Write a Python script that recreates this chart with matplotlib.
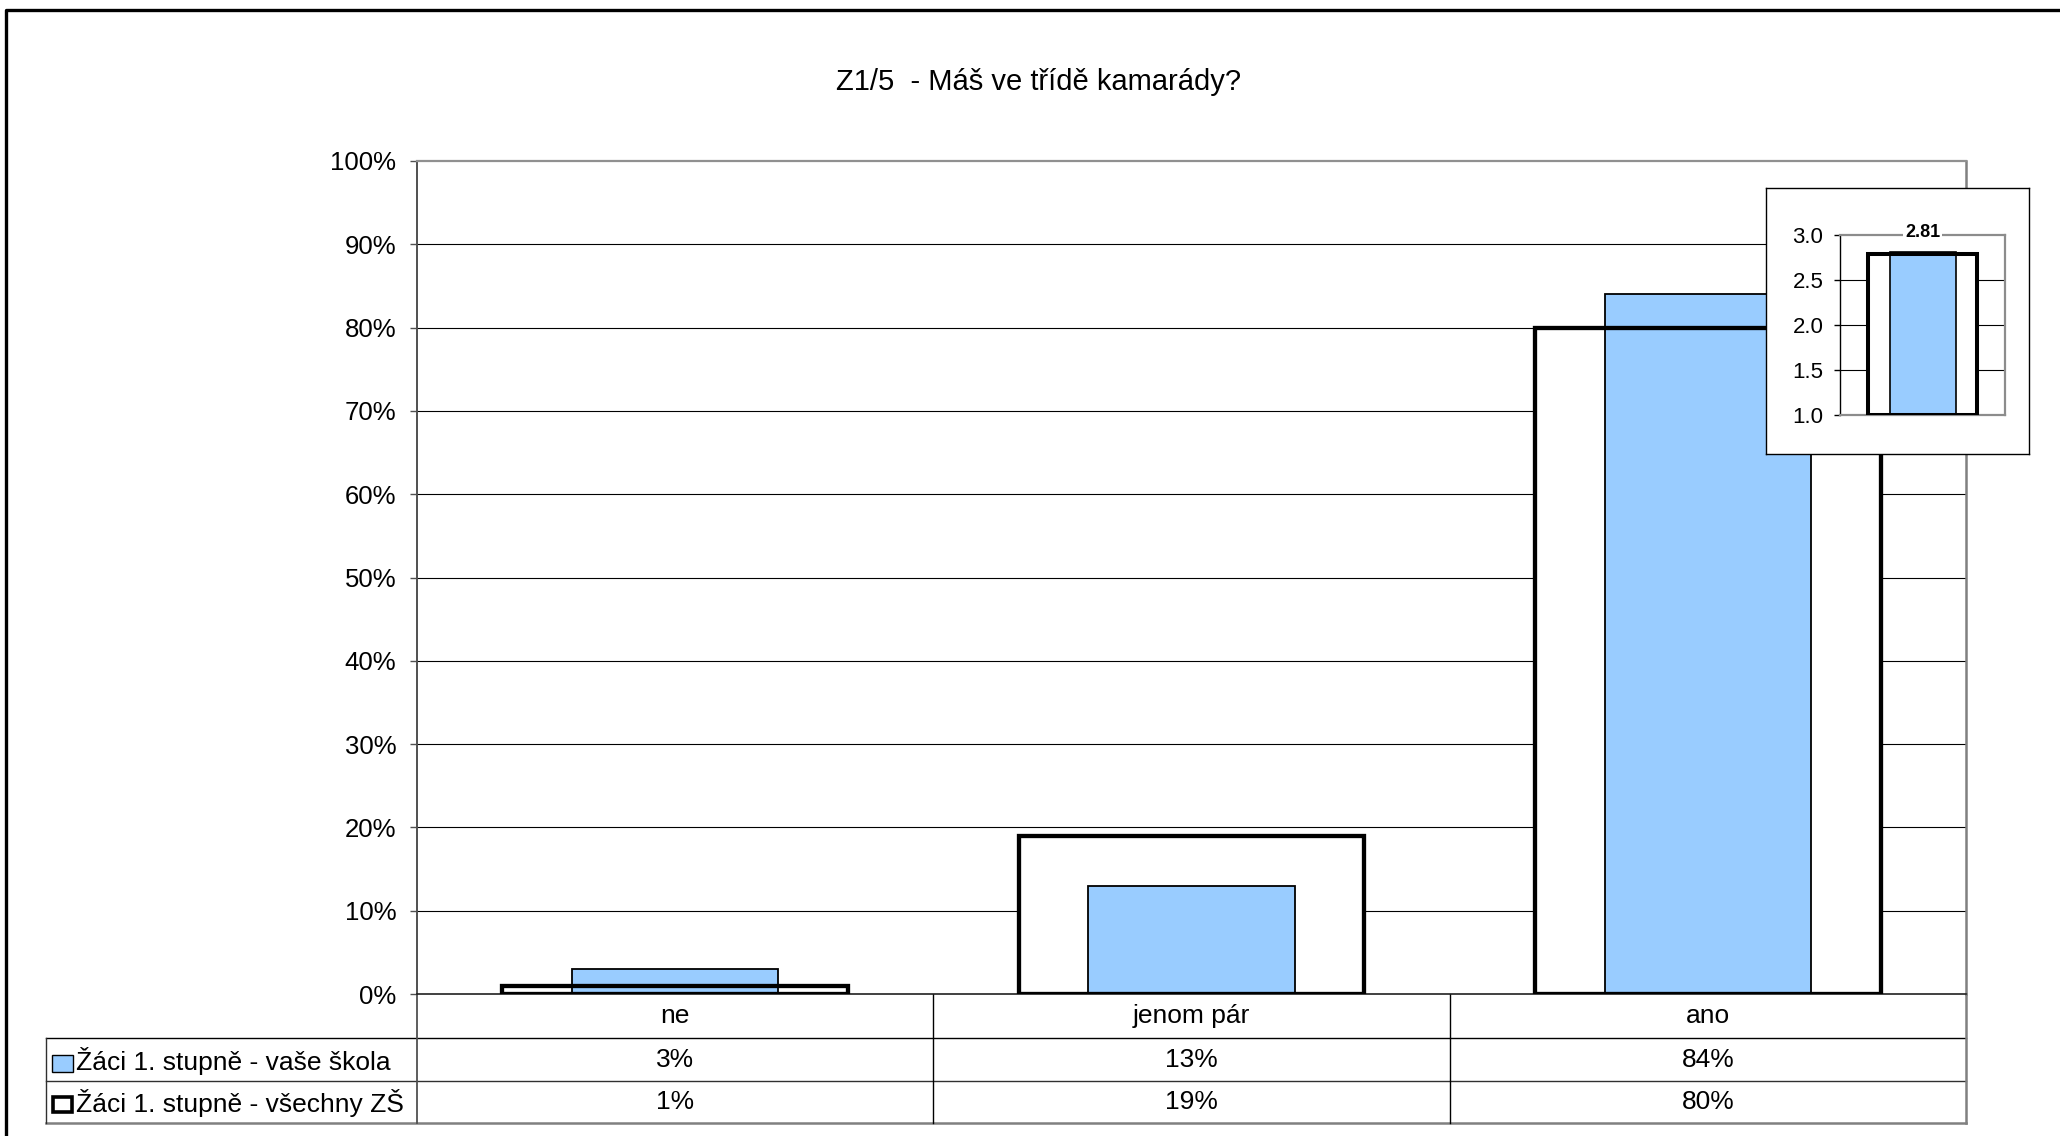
import matplotlib
matplotlib.use('Agg')
import matplotlib.pyplot as plt
import matplotlib.transforms as mtransforms
from matplotlib.patches import Rectangle
import numpy as np

plt.rcParams['font.family'] = ['Liberation Sans', 'DejaVu Sans']

# data
title = 'Z1/5  - Máš ve třídě kamarády?'
categories = ['ne', 'jenom pár', 'ano']
series_names = ['Žáci 1. stupně - vaše škola', 'Žáci 1. stupně - všechny ZŠ']
school_pct = [3, 13, 84]
all_pct = [1, 19, 80]
y_ticks = [0, 10, 20, 30, 40, 50, 60, 70, 80, 90, 100]
# inset: average score
inset_school = 2.81
inset_all = 2.79
inset_ticks = [1.0, 1.5, 2.0, 2.5, 3.0]

BLUE = '#99CCFF'
W, H = 2060, 1136

fig = plt.figure(figsize=(W / 100, H / 100), dpi=100)

# overlay in pixel coordinates for frame + table lines
ov = fig.add_axes([0, 0, 1, 1], zorder=0)
ov.set_xlim(0, W)
ov.set_ylim(H, 0)
ov.axis('off')
ov.plot([6, 6, W], [H, 10, 10], color='black', lw=2.4, solid_capstyle='projecting')

# table grid
ov.plot([46, 1966], [1038, 1038], color='black', lw=1.0)
ov.plot([46, 1966], [1081, 1081], color='#303030', lw=1.0)
ov.plot([46, 1966], [1123, 1123], color='#808080', lw=1.8)
ov.plot([46, 46], [1038, 1123], color='#303030', lw=1.0)
for xx in [933.3, 1449.7]:
    ov.plot([xx, xx], [994, 1123], color='black', lw=1.0)
ov.plot([417, 417], [994, 1123], color='#505050', lw=1.3)
ov.plot([1966, 1966], [994, 1123], color='#808080', lw=1.8)

# legend swatches
ov.add_patch(Rectangle((52, 1055), 21, 17, facecolor=BLUE, edgecolor='black', lw=1.0))
ov.add_patch(Rectangle((53, 1097), 19, 15, facecolor='white', edgecolor='black', lw=2.6))
fig.text(76 / W, 1 - 1061 / H, series_names[0], fontsize=19, va='center', ha='left')
fig.text(76 / W, 1 - 1103 / H, series_names[1], fontsize=19, va='center', ha='left')

fig.text(1039 / W, 1 - 82 / H, title, fontsize=21, ha='center', va='center')

# main chart
ax = fig.add_axes([417 / W, 1 - 994 / H, 1549 / W, 833 / H], zorder=1)
x = np.arange(len(categories))
ax.set_xlim(-0.5, len(categories) - 0.5)
ax.set_ylim(0, 100)
ax.set_yticks(y_ticks)
ax.set_yticklabels([f'{v}%' for v in y_ticks], fontsize=18.5)
ax.set_xticks([])
ax.tick_params(axis='y', direction='out', length=5, width=1, color='#505050', pad=10)
for v in y_ticks[1:-1]:
    ax.axhline(v, color='black', lw=0.8, zorder=0)

ax.bar(x, all_pct, width=0.67, color='white', edgecolor='none', zorder=1)
ax.bar(x, school_pct, width=0.4, color=BLUE, edgecolor='black', lw=1.3, zorder=2)
ax.bar(x, all_pct, width=0.67, fill=False, edgecolor='black', lw=3.1, zorder=3)

ax.spines['left'].set_color('#505050')
ax.spines['left'].set_linewidth(1.4)
ax.spines['bottom'].set_color('#202020')
ax.spines['bottom'].set_linewidth(1.2)
ax.spines['top'].set_color('#909090')
ax.spines['top'].set_linewidth(1.6)
ax.spines['right'].set_color('#808080')
ax.spines['right'].set_linewidth(1.8)

# table texts below the axis
trans = mtransforms.blended_transform_factory(ax.transData, ax.transAxes)
row_y = [-(1016 - 994) / 833, -(1060 - 994) / 833, -(1102 - 994) / 833]
for i, cat in enumerate(categories):
    ax.text(i, row_y[0], cat, transform=trans, ha='center', va='center', fontsize=19, clip_on=False)
    ax.text(i, row_y[1], f'{school_pct[i]}%', transform=trans, ha='center', va='center', fontsize=19, clip_on=False)
    ax.text(i, row_y[2], f'{all_pct[i]}%', transform=trans, ha='center', va='center', fontsize=19, clip_on=False)

# inset frame
fr = fig.add_axes([1766 / W, 1 - 454 / H, 263 / W, 266 / H], zorder=3)
fr.set_xticks([])
fr.set_yticks([])
for s in fr.spines.values():
    s.set_color('black')
    s.set_linewidth(1.0)

# inset chart
ia = fig.add_axes([1840 / W, 1 - 415 / H, 165 / W, 180 / H], zorder=4)
ia.set_facecolor('none')
ia.set_xlim(-0.5, 0.5)
ia.set_ylim(1.0, 3.0)
ia.set_yticks(inset_ticks)
ia.set_yticklabels([f'{v:.1f}' for v in inset_ticks], fontsize=16)
ia.set_xticks([])
ia.tick_params(axis='y', direction='out', length=4, width=1, color='black', pad=8)
for v in inset_ticks[1:-1]:
    ia.axhline(v, color='black', lw=0.8, zorder=0)
ia.bar([0], [inset_all - 1.0], bottom=1.0, width=0.66, color='white', edgecolor='none', zorder=1)
ia.bar([0], [inset_school - 1.0], bottom=1.0, width=0.4, color=BLUE, edgecolor='black', lw=1.2, zorder=2)
ia.bar([0], [inset_all - 1.0], bottom=1.0, width=0.66, fill=False, edgecolor='black', lw=2.9, zorder=3)
ia.text(0, 3.03, f'{inset_school:.2f}', ha='center', va='center', fontsize=13, fontweight='bold',
        bbox=dict(facecolor='white', edgecolor='none', pad=1.5), zorder=5, clip_on=False)
ia.spines['left'].set_color('black')
ia.spines['left'].set_linewidth(1.0)
for side in ['top', 'right', 'bottom']:
    ia.spines[side].set_color('#8c8c8c')
    ia.spines[side].set_linewidth(1.6)

plt.savefig('out.png', dpi=100)
plt.close()
